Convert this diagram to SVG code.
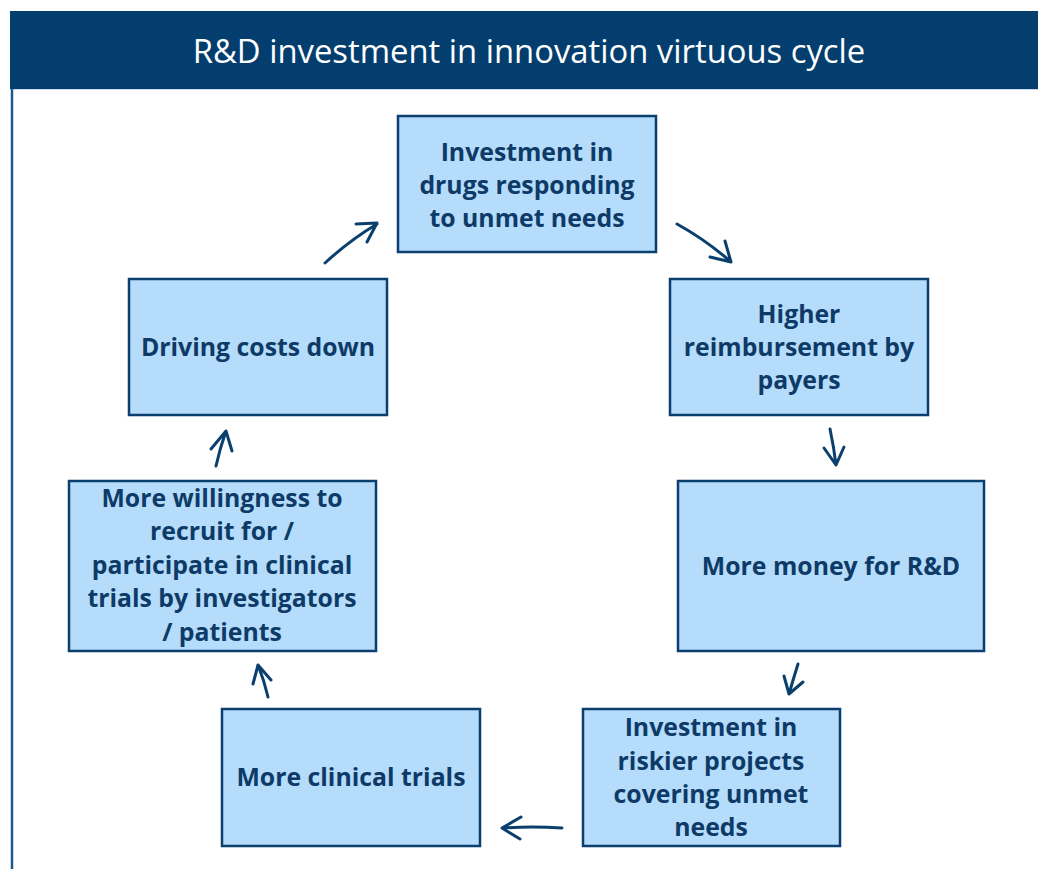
<svg xmlns="http://www.w3.org/2000/svg" width="1038" height="869" viewBox="0 0 1038 869">
<defs>
<style>
.box{fill:#b5dcfb;stroke:#0b3f6d;stroke-width:2.5}
.t{font-family:"Open Sans","Liberation Sans",sans-serif;font-weight:bold;font-size:24.8px;fill:#0d3a66;text-anchor:middle}
.c{fill:none;stroke:#0b3f6d;stroke-width:3;stroke-linecap:round;stroke-linejoin:round}
</style>
</defs>
<rect width="1038" height="869" fill="#ffffff"/>
<g id="header">
<rect x="10" y="11" width="1028" height="78" fill="#033e6e"/>
<line x1="10" y1="89.5" x2="1038" y2="89.5" stroke="#c9dcee" stroke-width="1"/>
<line x1="12" y1="89" x2="12" y2="869" stroke="#1d5a8e" stroke-width="2.5"/>
<text x="529" y="63" font-family="Open Sans, Liberation Sans, sans-serif" font-size="32.8" fill="#ffffff" text-anchor="middle">R&amp;D investment in innovation virtuous cycle</text>
</g>
<g id="n1"><rect class="box" x="398" y="116" width="258" height="136"/>
<text class="t" x="527" y="161">Investment in</text><text class="t" x="527" y="194">drugs responding</text><text class="t" x="527" y="227">to unmet needs</text></g>
<g id="n2"><rect class="box" x="670" y="279" width="258" height="136"/>
<text class="t" x="799" y="323">Higher</text><text class="t" x="799" y="356">reimbursement by</text><text class="t" x="799" y="389">payers</text></g>
<g id="n3"><rect class="box" x="678" y="481" width="306" height="170"/>
<text class="t" x="831" y="575">More money for R&amp;D</text></g>
<g id="n4"><rect class="box" x="583" y="709" width="257" height="137"/>
<text class="t" x="711" y="736">Investment in</text><text class="t" x="711" y="770">riskier projects</text><text class="t" x="711" y="803">covering unmet</text><text class="t" x="711" y="836">needs</text></g>
<g id="n5"><rect class="box" x="222" y="709" width="258" height="137"/>
<text class="t" x="351" y="786">More clinical trials</text></g>
<g id="n6"><rect class="box" x="69" y="481" width="307" height="170"/>
<text class="t" x="222" y="507">More willingness to</text><text class="t" x="222" y="540">recruit for /</text><text class="t" x="222" y="574">participate in clinical</text><text class="t" x="222" y="607">trials by investigators</text><text class="t" x="222" y="641">/ patients</text></g>
<g id="n7"><rect class="box" x="129" y="279" width="258" height="136"/>
<text class="t" x="258" y="356">Driving costs down</text></g>
<g id="connectors">
<path class="c" d="M325,263 Q350,240 377,224 M356,224 L377,223 L367,242"/>
<path class="c" d="M677,224 Q706,240 731,262 M710,257 L731,262 L725,241"/>
<path class="c" d="M830,429 Q834,448 836,465 M824,448 L836,465 L844,447"/>
<path class="c" d="M798,664 Q793,680 789,694 M784,676 L789,694 L803,682"/>
<path class="c" d="M562,828 Q532,826 502,828 M521,817 L502,828 L520,839"/>
<path class="c" d="M268,697 Q264,680 258,665 M253,684 L258,665 L271,680"/>
<path class="c" d="M216,466 Q220,448 226,431 M211,449 L226,431 L232,451"/>
</g>
</svg>
